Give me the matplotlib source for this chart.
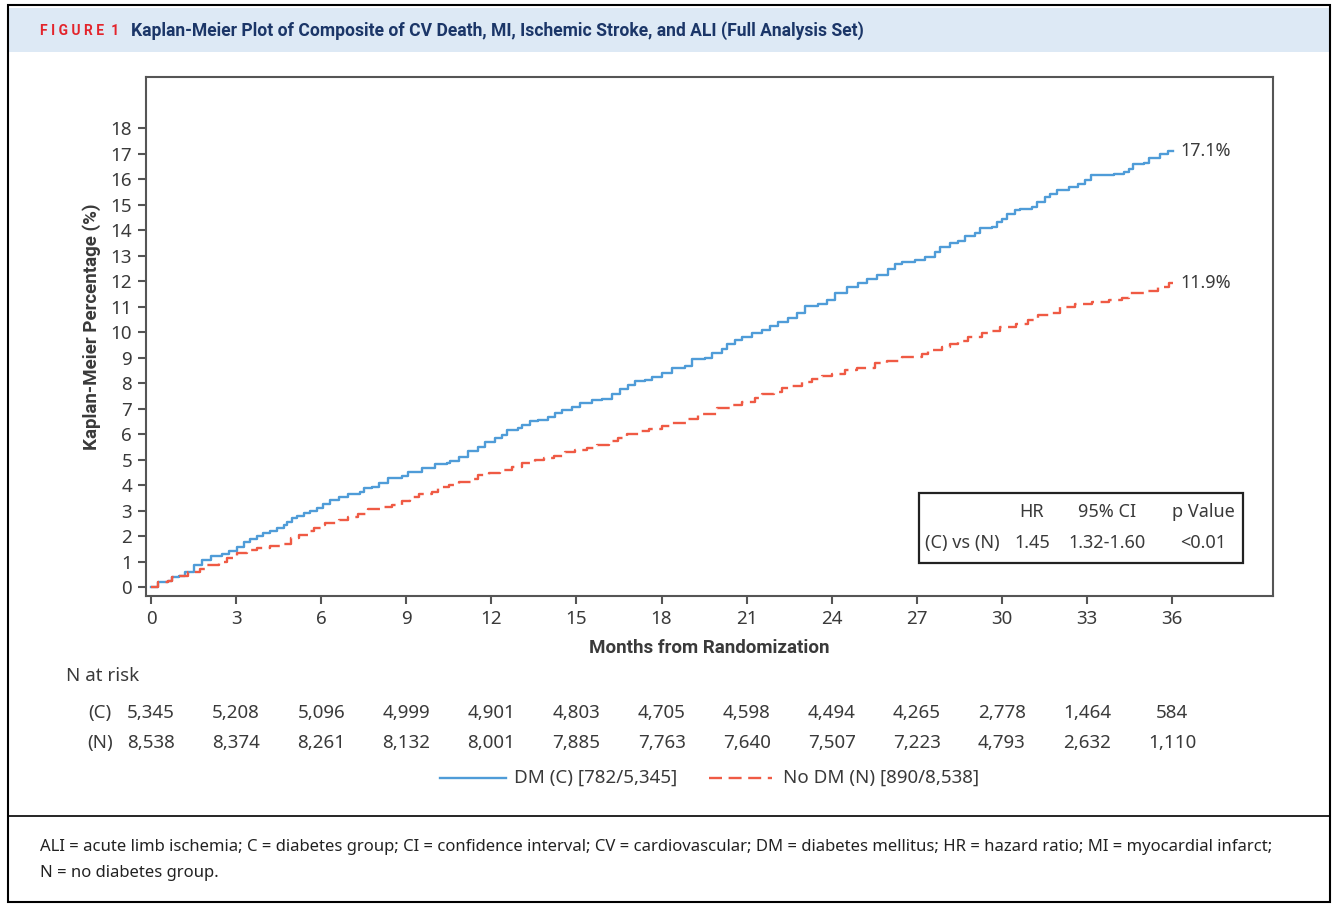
import matplotlib
matplotlib.use("Agg")
from matplotlib import pyplot as plt
from matplotlib.patches import Rectangle
from matplotlib.lines import Line2D

# Kaplan-Meier readings (months, cumulative %) for each group
dm_months = [0, 0.26, 0.6, 0.73, 1.0, 1.2, 1.5, 1.8, 2.1, 2.5, 2.73, 3.02, 3.26, 3.5, 3.73,
             3.96, 4.2, 4.44, 4.67, 4.79, 4.96, 5.14, 5.38, 5.6, 5.85, 6.05, 6.31, 6.61, 6.96,
             7.37, 7.49, 7.78, 8.02, 8.37, 8.84, 9.07, 9.54, 10.02, 10.43, 10.54, 10.84, 11.19,
             11.54, 11.78, 12.13, 12.36, 12.54, 12.95, 13.07, 13.36, 13.66, 14.01, 14.25, 14.48,
             14.83, 15.13, 15.54, 15.89, 16.24, 16.54, 16.83, 17.07, 17.42, 17.65, 18.01, 18.36,
             18.83, 19.07, 19.54, 19.77, 20.12, 20.3, 20.6, 20.83, 21.18, 21.53, 21.83, 22.12,
             22.47, 22.77, 23.06, 23.53, 23.83, 24.12, 24.53, 24.94, 25.24, 25.6, 26.0, 26.24,
             26.47, 26.94, 27.29, 27.65, 27.82, 28.18, 28.47, 28.71, 29.06, 29.23, 29.64, 29.82,
             30.0, 30.17, 30.47, 30.64, 31.06, 31.23, 31.52, 31.7, 31.94, 32.35, 32.7, 32.94,
             33.15, 33.94, 34.29, 34.47, 34.64, 35.0, 35.17, 35.58, 35.85, 36.05]
dm_pct = [0, 0.18, 0.22, 0.39, 0.44, 0.61, 0.88, 1.07, 1.2, 1.31, 1.40, 1.59, 1.75, 1.88, 2.01,
          2.12, 2.21, 2.31, 2.42, 2.55, 2.71, 2.80, 2.90, 3.0, 3.1, 3.25, 3.41, 3.52, 3.65,
          3.74, 3.87, 3.93, 4.09, 4.26, 4.35, 4.52, 4.65, 4.81, 4.85, 4.95, 5.11, 5.35,
          5.5, 5.7, 5.83, 5.96, 6.16, 6.22, 6.35, 6.52, 6.57, 6.68, 6.81, 6.94,
          7.07, 7.2, 7.33, 7.39, 7.56, 7.75, 7.92, 8.09, 8.12, 8.25, 8.4, 8.58,
          8.67, 8.93, 9.0, 9.19, 9.35, 9.55, 9.69, 9.81, 9.97, 10.08, 10.23, 10.4,
          10.56, 10.73, 11.02, 11.1, 11.25, 11.55, 11.75, 11.93, 12.06, 12.23, 12.46, 12.66,
          12.75, 12.82, 12.93, 13.15, 13.35, 13.48, 13.58, 13.76, 13.87, 14.06, 14.13, 14.3,
          14.42, 14.63, 14.78, 14.84, 14.91, 15.1, 15.3, 15.43, 15.56, 15.69, 15.82, 15.95,
          16.15, 16.19, 16.28, 16.41, 16.58, 16.64, 16.81, 16.98, 17.1, 17.1]

nodm_months = [0, 0.26, 0.6, 0.73, 1.0, 1.3, 1.73, 1.96, 2.38, 2.67, 3.02, 3.38, 3.73, 4.2,
               4.67, 4.93, 5.2, 5.55, 5.73, 6.08, 6.14, 6.61, 6.96, 7.31, 7.66, 8.13, 8.49,
               8.84, 9.13, 9.43, 9.9, 10.13, 10.49, 10.84, 11.31, 11.54, 11.9, 12.31, 12.72,
               13.07, 13.54, 13.84, 14.19, 14.6, 14.95, 15.36, 15.72, 16.13, 16.48, 16.78,
               17.19, 17.54, 18.01, 18.3, 18.89, 19.3, 19.95, 20.48, 20.83, 21.3, 21.53, 21.95,
               22.24, 22.6, 22.94, 23.3, 23.65, 24.01, 24.47, 24.88, 25.53, 25.94, 26.47, 27.18,
               27.41, 27.88, 28.18, 28.47, 28.82, 29.3, 29.59, 29.94, 30.5, 30.93, 31.29, 31.7,
               32.05, 32.58, 33.17, 33.76, 34.23, 34.47, 35.05, 35.52, 35.88, 36.05]
nodm_pct = [0, 0.18, 0.22, 0.39, 0.44, 0.59, 0.7, 0.88, 1.0, 1.14, 1.33, 1.46, 1.53, 1.6,
            1.69, 1.92, 2.05, 2.18, 2.31, 2.42, 2.5, 2.63, 2.76, 2.86, 3.05, 3.15, 3.22,
            3.38, 3.52, 3.65, 3.74, 3.91, 4.0, 4.13, 4.22, 4.39, 4.48, 4.59, 4.72,
            4.87, 4.98, 5.08, 5.15, 5.3, 5.37, 5.45, 5.57, 5.74, 5.83, 6.0,
            6.13, 6.19, 6.31, 6.44, 6.58, 6.78, 7.01, 7.14, 7.27, 7.4, 7.56, 7.66,
            7.79, 7.88, 8.05, 8.14, 8.27, 8.35, 8.51, 8.58, 8.78, 8.88, 9.03, 9.14,
            9.29, 9.42, 9.53, 9.66, 9.82, 9.95, 10.05, 10.2, 10.33, 10.47, 10.67, 10.76,
            10.99, 11.1, 11.16, 11.25, 11.32, 11.52, 11.62, 11.78, 11.92, 11.92]

x_ticks = [0, 3, 6, 9, 12, 15, 18, 21, 24, 27, 30, 33, 36]
risk_dm = ["5,345", "5,208", "5,096", "4,999", "4,901", "4,803", "4,705", "4,598", "4,494",
           "4,265", "2,778", "1,464", "584"]
risk_nodm = ["8,538", "8,374", "8,261", "8,132", "8,001", "7,885", "7,763", "7,640", "7,507",
             "7,223", "4,793", "2,632", "1,110"]

BLUE = "#4f9cd8"
RED = "#ef5a44"
GREY = "#3a3a3a"
FS = 13.5
W, H = 1336, 908

plt.rcParams["font.family"] = ["Noto Sans", "DejaVu Sans"]
BOLD_FONT = ["Roboto", "DejaVu Sans"]


def fx(x):
    return x / W


def fy(y):
    return 1 - y / H


fig = plt.figure(figsize=(W / 100, H / 100), dpi=100)

# frame, header band and footnote divider
fig.patches.append(Rectangle((fx(8), fy(52)), fx(1322), 44 / H, transform=fig.transFigure,
                             facecolor="#dde9f5", edgecolor="none", zorder=0))
fig.patches.append(Rectangle((fx(8), fy(902)), fx(1322), 897 / H, transform=fig.transFigure,
                             facecolor="none", edgecolor="black", lw=1.5, zorder=5))
fig.lines.append(Line2D([fx(8), fx(1330)], [fy(816), fy(816)], transform=fig.transFigure,
                        color="black", lw=1.2))

fig.text(fx(40), fy(31), "F I G U R E  1", color="#e3242b", fontsize=10, fontweight="bold",
         va="center", family=BOLD_FONT)
fig.text(fx(131), fy(31),
         "Kaplan-Meier Plot of Composite of CV Death, MI, Ischemic Stroke, and ALI (Full Analysis Set)",
         color="#1b3668", fontsize=12.65, fontweight="bold", va="center", family=BOLD_FONT)

ax = fig.add_axes([fx(146), fy(596), fx(1273) - fx(146), fy(77) - fy(596)])
ax.step(dm_months, dm_pct, where="post", color=BLUE, lw=1.7)
ax.step(nodm_months, nodm_pct, where="post", color=RED, lw=1.7, dashes=(5.5, 2.8))
ax.set_xlim(-0.18, 39.56)
ax.set_ylim(-0.35, 20.0)
ax.set_xticks(x_ticks)
ax.set_yticks(range(0, 19))
for s in ax.spines.values():
    s.set_color("#555555")
    s.set_linewidth(1.5)
ax.tick_params(direction="out", length=6, width=1.5, color="#555555", labelsize=FS,
               labelcolor=GREY, pad=4)
ax.set_xlabel("Months from Randomization", fontsize=13.5, color=GREY, fontweight="bold",
              family=BOLD_FONT, labelpad=8)
ax.set_ylabel("Kaplan-Meier Percentage (%)", fontsize=13.5, color=GREY, fontweight="bold",
              family=BOLD_FONT)
ax.yaxis.set_label_coords(-0.040, 0.518)

ax.text(36.3, dm_pct[-1], "17.1%", fontsize=13, color=GREY, va="center")
ax.text(36.3, nodm_pct[-1], "11.9%", fontsize=13, color=GREY, va="center")

# HR box
fig.patches.append(Rectangle((fx(919), fy(563)), (1243 - 919) / W, 70 / H,
                             transform=fig.transFigure, facecolor="white",
                             edgecolor="#222222", lw=1.6, zorder=3))
for x, t in [(1032, "HR"), (1107, "95% CI"), (1203, "p Value")]:
    fig.text(fx(x), fy(512), t, ha="center", va="center", fontsize=13, color=GREY, zorder=6)
fig.text(fx(925), fy(543), "(C) vs (N)", ha="left", va="center", fontsize=13, color=GREY, zorder=6)
for x, t in [(1032, "1.45"), (1107, "1.32-1.60"), (1203, "<0.01")]:
    fig.text(fx(x), fy(543), t, ha="center", va="center", fontsize=13, color=GREY, zorder=6)

# number at risk table
fig.text(fx(66), fy(676), "N at risk", fontsize=FS, color=GREY, va="center")
fig.text(fx(100), fy(713), "(C)", fontsize=FS, color=GREY, va="center", ha="center")
fig.text(fx(100), fy(743), "(N)", fontsize=FS, color=GREY, va="center", ha="center")
for m, a, b in zip(x_ticks, risk_dm, risk_nodm):
    xf = ax.transData.transform((m, 0))[0] / fig.bbox.width
    fig.text(xf, fy(713), a, fontsize=FS, color=GREY, va="center", ha="center")
    fig.text(xf, fy(743), b, fontsize=FS, color=GREY, va="center", ha="center")

# legend
fig.lines.append(Line2D([fx(440), fx(506)], [fy(778), fy(778)], transform=fig.transFigure,
                        color=BLUE, lw=1.7))
fig.text(fx(514), fy(778), "DM (C) [782/5,345]", fontsize=FS, color=GREY, va="center")
fig.lines.append(Line2D([fx(709), fx(772)], [fy(778), fy(778)], transform=fig.transFigure,
                        color=RED, lw=1.7, dashes=(5.5, 2.8)))
fig.text(fx(783), fy(778), "No DM (N) [890/8,538]", fontsize=FS, color=GREY, va="center")

# footnote
fig.text(fx(40), fy(847),
         "ALI = acute limb ischemia; C = diabetes group; CI = confidence interval; CV = cardiovascular; "
         "DM = diabetes mellitus; HR = hazard ratio; MI = myocardial infarct;",
         fontsize=12, color="#222222", va="center")
fig.text(fx(40), fy(873), "N = no diabetes group.", fontsize=12, color="#222222", va="center")

fig.savefig("out.png", dpi=100)
